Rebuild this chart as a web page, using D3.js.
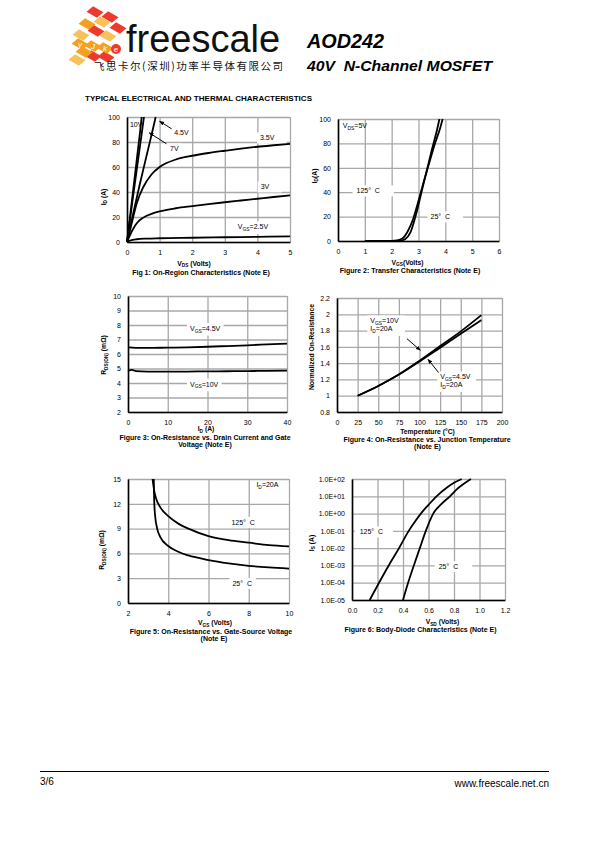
<!DOCTYPE html>
<html><head><meta charset="utf-8">
<script src="https://cdn.jsdelivr.net/npm/d3@7/dist/d3.min.js"></script>
<style>
html,body{margin:0;padding:0;background:#fff;}
svg{display:block;font-family:"Liberation Sans",Arial,Helvetica,sans-serif;}
</style></head><body>
<svg id="page" width="595" height="842"></svg>
<script>
// ---------------- DATA ----------------
// Fig 1: On-region characteristics  (VDS [V], ID [A])
const fig1XTicks = [0,1,2,3,4,5];
const fig1YTicks = [0,20,40,60,80,100];
const fig1Vgs10  = [[0,0],[0.1,22],[0.2,44],[0.3,66],[0.4,88],[0.45,100]];
const fig1Vgs7   = [[0,0],[0.1,19.5],[0.2,39],[0.3,58],[0.4,77],[0.5,96],[0.52,100]];
const fig1Vgs45  = [[0,0],[0.1,12],[0.2,24],[0.4,47],[0.6,69],[0.8,91],[0.88,100]];
const fig1Vgs35  = [[0,0],[0.1,10],[0.2,21],[0.3,31],[0.5,44],[0.75,54],[1,60],[1.5,66],[2,69],[2.5,71.2],[3,73],[3.5,74.7],[4,76.2],[4.5,77.4],[5,78.5]];
const fig1Vgs3   = [[0,0],[0.1,6],[0.2,11],[0.3,15],[0.5,19.5],[0.75,22.5],[1,24.5],[1.5,27],[2,28.7],[2.5,30.3],[3,31.8],[3.5,33.2],[4,34.6],[4.5,36],[5,37.3]];
const fig1Vgs25  = [[0,0],[0.1,1.2],[0.3,2.2],[0.6,2.7],[1,3],[2,3.4],[3,3.8],[4,4.1],[5,4.5]];

// Fig 2: Transfer characteristics (VGS [V], ID [A])
const fig2XTicks = [0,1,2,3,4,5,6];
const fig2YTicks = [0,20,40,60,80,100];
const fig2T125 = [[1,0],[1.5,0],[2,0.1],[2.2,0.5],[2.4,2],[2.6,8],[2.8,18],[3,33],[3.2,49],[3.4,64],[3.6,79],[3.8,92],[3.9,100]];
const fig2T25  = [[2,0],[2.3,0.2],[2.5,1.5],[2.7,7],[2.9,21],[3.1,39],[3.3,57],[3.5,75],[3.7,92],[3.78,100]];

// Fig 3: On-resistance vs drain current (ID [A], RDS(ON) [mOhm])
const fig3XTicks = [0,10,20,30,40];
const fig3YTicks = [2,3,4,5,6,7,8,9,10];
const fig3Vgs45 = [[0,6.45],[2,6.42],[5,6.42],[10,6.44],[15,6.46],[20,6.5],[25,6.55],[30,6.6],[35,6.66],[40,6.72]];
const fig3Vgs10 = [[0,4.84],[1,4.9],[2,4.82],[5,4.79],[10,4.78],[15,4.79],[20,4.8],[25,4.81],[30,4.82],[35,4.84],[40,4.85]];

// Fig 4: Normalized on-resistance vs temperature
const fig4XTicks = [0,25,50,75,100,125,150,175,200];
const fig4YTicks = [0.8,1,1.2,1.4,1.6,1.8,2,2.2];
const fig4Vgs10 = [[25,1.0],[50,1.12],[75,1.26],[100,1.43],[125,1.61],[150,1.79],[175,1.99]];
const fig4Vgs45 = [[25,1.0],[50,1.12],[75,1.26],[100,1.42],[125,1.59],[150,1.76],[175,1.93]];

// Fig 5: On-resistance vs gate-source voltage (VGS [V], RDS(ON) [mOhm])
const fig5XTicks = [2,4,6,8,10];
const fig5YTicks = [0,3,6,9,12,15];
const fig5T125 = [[3.22,15],[3.3,13.6],[3.4,12.6],[3.6,11.6],[4,10.5],[4.5,9.6],[5,9.0],[6,8.1],[7,7.6],[8,7.3],[9,7.0],[10,6.85]];
const fig5T25  = [[3.28,15],[3.3,12.5],[3.35,10.5],[3.45,9],[3.6,8],[4,6.9],[4.5,6.2],[5,5.75],[6,5.2],[7,4.8],[8,4.5],[9,4.3],[10,4.15]];

// Fig 6: Body diode characteristics (VSD [V], IS [A], log)
const fig6XTicks = [0,0.2,0.4,0.6,0.8,1.0,1.2];
const fig6YTicks = [1e-5,1e-4,1e-3,1e-2,1e-1,1e0,1e1,1e2];
const fig6T125 = [[0.139,1e-5],[0.212,1e-4],[0.288,1e-3],[0.369,1e-2],[0.445,1e-1],[0.5,0.4],[0.54,1],[0.6,3.2],[0.663,10],[0.74,30],[0.8,60],[0.86,100]];
const fig6T25  = [[0.4,1e-5],[0.44,1e-4],[0.485,1e-3],[0.532,1e-2],[0.579,1e-1],[0.637,1],[0.7,3.5],[0.768,10],[0.833,30],[0.88,55],[0.933,100]];

// ---------------- DRAWING ----------------
const svg = d3.select('#page');
const GRID = '#a8a8a8';
const defs = svg.append('defs');
defs.append('marker').attr('id','arr').attr('viewBox','0 0 10 10').attr('refX',9).attr('refY',5)
  .attr('markerWidth',5).attr('markerHeight',5).attr('orient','auto')
  .append('path').attr('d','M0,1 L10,5 L0,9 z').attr('fill','#000');

// text with subscripts: parts = ["V", ["GS"], "=4.5V"]
function rich(parent, x, y, parts, o = {}) {
  const size = o.size || 7;
  const t = parent.append('text')
    .attr('font-size', size)
    .attr('font-weight', o.weight || 'normal')
    .attr('font-style', o.style || 'normal')
    .attr('text-anchor', o.anchor || 'start')
    .attr('fill', '#000')
    .style('white-space', 'pre');
  if (o.rotate) t.attr('transform', `translate(${x},${y}) rotate(-90)`);
  else t.attr('x', x).attr('y', y);
  if (o.center) t.attr('dy', '0.35em');
  let sub = false;
  const sh = size * 0.22;
  parts.forEach(p => {
    if (Array.isArray(p)) {
      t.append('tspan').attr('font-size', size * 0.7).attr('dy', sh).text(p[0]);
      sub = true;
    } else {
      const ts = t.append('tspan').text(p);
      if (sub) { ts.attr('dy', -sh); sub = false; }
    }
  });
  return t;
}

function drawChart(c) {
  const g = svg.append('g');
  const x = d3.scaleLinear().domain(c.xDomain).range([c.l, c.r]);
  const y = (c.yLog ? d3.scaleLog() : d3.scaleLinear()).domain(c.yDomain).range([c.b, c.t]);
  const gGrid = g.append('g'), gBox = g.append('g'), gCurve = g.append('g'), gText = g.append('g'), gAxis = g.append('g');

  // grid via axes
  gGrid.append('g').attr('transform', `translate(0,${c.b})`)
    .call(d3.axisBottom(x).tickValues(c.xTicks).tickSize(-(c.b - c.t)).tickFormat(''))
    .call(a => { a.select('.domain').remove(); a.selectAll('line').attr('stroke', GRID).attr('stroke-width', 1.3); });
  gGrid.append('g').attr('transform', `translate(${c.l},0)`)
    .call(d3.axisLeft(y).tickValues(c.yTicks).tickSize(-(c.r - c.l)).tickFormat(''))
    .call(a => { a.select('.domain').remove(); a.selectAll('line').attr('stroke', GRID).attr('stroke-width', 1.3); });

  // curves
  const line = d3.line().x(d => x(d[0])).y(d => y(d[1])).curve(d3.curveMonotoneX);
  c.series.forEach(s => gCurve.append('path').datum(s)
    .attr('fill', 'none').attr('stroke', '#000').attr('stroke-width', 1.8)
    .attr('stroke-linejoin', 'round').attr('d', line));

  // in-plot labels with white boxes
  (c.labels || []).forEach(L => {
    const texts = L.lines.map((parts, i) => rich(gText, x(L.x), y(L.y) + i * 8, parts, { size: 7, center: true }));
    let bb = null;
    texts.forEach(t => {
      const b = t.node().getBBox();
      if (!bb) bb = { x0: b.x, y0: b.y, x1: b.x + b.width, y1: b.y + b.height };
      else { bb.x0 = Math.min(bb.x0, b.x); bb.y0 = Math.min(bb.y0, b.y); bb.x1 = Math.max(bb.x1, b.x + b.width); bb.y1 = Math.max(bb.y1, b.y + b.height); }
    });
    if (L.box !== false) {
      const pl = L.padL ?? 3, pr = L.padR ?? 3;
      gBox.append('rect').attr('x', bb.x0 - pl).attr('y', bb.y0 - 2)
        .attr('width', bb.x1 - bb.x0 + pl + pr).attr('height', bb.y1 - bb.y0 + 4).attr('fill', '#fff');
    }
  });
  (c.arrows || []).forEach(A => {
    gText.append('line').attr('x1', x(A.from[0])).attr('y1', y(A.from[1]))
      .attr('x2', x(A.to[0])).attr('y2', y(A.to[1]))
      .attr('stroke', '#000').attr('stroke-width', 1).attr('marker-end', 'url(#arr)');
  });

  // axes with labels (black left/bottom)
  const ax = gAxis.append('g').attr('transform', `translate(0,${c.b})`)
    .call(d3.axisBottom(x).tickValues(c.xTicks).tickSize(0).tickSizeOuter(0).tickPadding(8.5).tickFormat(c.xFormat || (d => d)));
  const ay = gAxis.append('g').attr('transform', `translate(${c.l},0)`)
    .call(d3.axisLeft(y).tickValues(c.yTicks).tickSize(0).tickSizeOuter(0).tickPadding(7).tickFormat(c.yFormat || (d => d)));
  [ax, ay].forEach(a => {
    a.select('.domain').attr('stroke', '#000').attr('stroke-width', 1.6);
    a.selectAll('text').attr('font-size', 7).attr('fill', '#000').attr('font-family', '"Liberation Sans",Arial,sans-serif');
  });

  // titles & captions
  rich(g, c.xTitle.x, c.xTitle.y, c.xTitle.parts, { size: 6.8, weight: 'bold', anchor: 'middle' });
  rich(g, c.yTitle.x, c.yTitle.y, c.yTitle.parts, { size: 6.8, weight: 'bold', anchor: 'middle', rotate: true });
  c.caption.lines.forEach((ln, i) =>
    rich(g, c.caption.x[i], c.caption.y + i * 7.4, [ln], { size: 7, weight: 'bold', anchor: 'middle' }));
}

// ---------- header ----------
(function header() {
  const red = '#ec3b2c', orange = '#f6a01f', yellow = '#f9c15a';
  const tiles = [
    [95,12,red],[110,17,red],[102,22,yellow],[87,24,orange],[118,28,red],[96,31,red],
    [108,36,yellow],[81,35,yellow],[106,57,red],[93,56,red],[84,52,orange],[77,60,yellow]
  ];
  const lg = svg.append('g');
  tiles.forEach(([cx, cy, col]) => {
    lg.append('rect').attr('x', -6).attr('y', -4).attr('width', 12).attr('height', 8)
      .attr('fill', col).attr('transform', `translate(${cx},${cy}) rotate(30) skewX(-20)`);
  });
  [[80,44,'y'],[93,46,'J'],[105,48,'k']].forEach(([cx, cy, ch]) => {
    lg.append('rect').attr('x', -6).attr('y', -4).attr('width', 12).attr('height', 8)
      .attr('fill', orange).attr('transform', `translate(${cx},${cy}) rotate(30) skewX(-20)`);
    lg.append('text').attr('x', cx).attr('y', cy + 3).attr('text-anchor', 'middle')
      .attr('font-size', 8).attr('fill', '#fff').attr('font-style', 'italic').text(ch);
  });
  lg.append('circle').attr('cx', 116).attr('cy', 49).attr('r', 5).attr('fill', red);
  lg.append('text').attr('x', 116).attr('y', 52).attr('text-anchor', 'middle').attr('font-size', 8).attr('fill', '#fff').text('e');

  svg.append('text').attr('x', 126).attr('y', 52).attr('font-size', 38).attr('fill', '#111').text('freescale');
  svg.append('text').attr('x', 94).attr('y', 69.5).attr('font-size', 10.5)
    .attr('font-family', '"Noto Sans CJK SC",sans-serif').attr('textLength', 189).attr('lengthAdjust', 'spacing')
    .attr('fill', '#111').text('飞思卡尔(深圳)功率半导体有限公司');
  svg.append('text').attr('x', 307).attr('y', 48).attr('font-size', 20).attr('font-weight', 'bold')
    .attr('font-style', 'italic').attr('textLength', 77).attr('lengthAdjust', 'spacingAndGlyphs').text('AOD242');
  svg.append('text').attr('x', 307).attr('y', 70.5).attr('font-size', 15).attr('font-weight', 'bold')
    .attr('font-style', 'italic').attr('textLength', 185).attr('lengthAdjust', 'spacingAndGlyphs')
    .style('white-space', 'pre').text('40V  N-Channel MOSFET');
  svg.append('text').attr('x', 85).attr('y', 101).attr('font-size', 7.5).attr('font-weight', 'bold')
    .attr('textLength', 227).attr('lengthAdjust', 'spacingAndGlyphs')
    .text('TYPICAL ELECTRICAL AND THERMAL CHARACTERISTICS');
})();

// ---------- charts ----------
drawChart({
  l: 127, r: 290, t: 117, b: 242, xDomain: [0, 5], yDomain: [0, 100],
  xTicks: fig1XTicks, yTicks: fig1YTicks,
  series: [fig1Vgs10, fig1Vgs7, fig1Vgs45, fig1Vgs35, fig1Vgs3, fig1Vgs25],
  labels: [
    { x: 0.09, y: 93.6, lines: [['10V']], box: false },
    { x: 1.45, y: 87.5, lines: [['4.5V']] },
    { x: 1.32, y: 74.4, lines: [['7V']] },
    { x: 4.08, y: 83.2, lines: [['3.5V']], padR: 12 },
    { x: 4.1, y: 44, lines: [['3V']], padR: 12 },
    { x: 3.4, y: 12, lines: [['V', ['GS'], '=2.5V']] }
  ],
  arrows: [
    { from: [1.37, 90.5], to: [1.0, 96.6] },
    { from: [1.21, 78.6], to: [0.68, 87.4] }
  ],
  xTitle: { x: 194, y: 265.5, parts: ['V', ['DS'], ' (Volts)'] },
  yTitle: { x: 105.5, y: 197, parts: ['I', ['D'], ' (A)'] },
  caption: { x: [201], y: 275, lines: ['Fig 1: On-Region Characteristics (Note E)'] }
});

drawChart({
  l: 338, r: 499, t: 119, b: 241, xDomain: [0, 6], yDomain: [0, 100],
  xTicks: fig2XTicks, yTicks: fig2YTicks,
  series: [fig2T125, fig2T25],
  labels: [
    { x: 0.18, y: 94.5, lines: [['V', ['DS'], '=5V']], box: false },
    { x: 0.69, y: 41, lines: [['125°  C']], padL: 4, padR: 14 },
    { x: 3.45, y: 19.7, lines: [['25°  C']], padL: 3, padR: 13 }
  ],
  xTitle: { x: 407.5, y: 264.5, parts: ['V', ['GS'], '(Volts)'] },
  yTitle: { x: 316.5, y: 176, parts: ['I', ['D'], '(A)'] },
  caption: { x: [410], y: 272.5, lines: ['Figure 2: Transfer Characteristics (Note E)'] }
});

drawChart({
  l: 128, r: 287, t: 296, b: 412, xDomain: [0, 40], yDomain: [2, 10],
  xTicks: fig3XTicks, yTicks: fig3YTicks,
  series: [fig3Vgs45, fig3Vgs10],
  labels: [
    { x: 15.6, y: 7.75, lines: [['V', ['GS'], '=4.5V']] },
    { x: 15.6, y: 3.91, lines: [['V', ['GS'], '=10V']] }
  ],
  xTitle: { x: 206, y: 431.3, parts: ['I', ['D'], ' (A)'] },
  yTitle: { x: 106, y: 355, parts: ['R', ['DS(ON)'], ' (mΩ)'] },
  caption: { x: [205, 205], y: 439.5, lines: ['Figure 3: On-Resistance vs. Drain Current and Gate', 'Voltage (Note E)'] }
});

drawChart({
  l: 337, r: 502, t: 298, b: 412, xDomain: [0, 200], yDomain: [0.8, 2.2],
  xTicks: fig4XTicks, yTicks: fig4YTicks,
  yFormat: d => String(+d.toFixed(1)),
  series: [fig4Vgs10, fig4Vgs45],
  labels: [
    { x: 40.4, y: 1.918, lines: [['V', ['GS'], '=10V'], ['I', ['D'], '=20A']], padR: 6 },
    { x: 125.2, y: 1.23, lines: [['V', ['GS'], '=4.5V'], ['I', ['D'], '=20A']], padR: 5 }
  ],
  arrows: [
    { from: [84.8, 1.70], to: [101, 1.558] },
    { from: [123.2, 1.284], to: [110.3, 1.447] }
  ],
  xTitle: { x: 427.5, y: 433.5, parts: ['Temperature (°C)'] },
  yTitle: { x: 313.5, y: 347, parts: ['Normalized On-Resistance'] },
  caption: { x: [427, 427.5], y: 441.5, lines: ['Figure 4: On-Resistance vs. Junction Temperature', '(Note E)'] }
});

drawChart({
  l: 128, r: 289, t: 479, b: 603, xDomain: [2, 10], yDomain: [0, 15],
  xTicks: fig5XTicks, yTicks: fig5YTicks,
  series: [fig5T125, fig5T25],
  labels: [
    { x: 8.38, y: 14.28, lines: [['I', ['D'], '=20A']], box: false },
    { x: 7.14, y: 9.75, lines: [['125°  C']], padR: 4 },
    { x: 7.19, y: 2.35, lines: [['25°  C']], padR: 4 }
  ],
  xTitle: { x: 215, y: 625.3, parts: ['V', ['GS'], ' (Volts)'] },
  yTitle: { x: 104, y: 550, parts: ['R', ['DS(ON)'], ' (mΩ)'] },
  caption: { x: [211, 214], y: 633.5, lines: ['Figure 5: On-Resistance vs. Gate-Source Voltage', '(Note E)'] }
});

drawChart({
  l: 352, r: 505, t: 479, b: 600, xDomain: [0, 1.2], yDomain: [1e-5, 1e2], yLog: true,
  xTicks: fig6XTicks, yTicks: fig6YTicks,
  xFormat: d3.format('.1f'),
  yFormat: d => { const e = Math.round(Math.log10(d)); return '1.0E' + (e < 0 ? '-' : '+') + String(Math.abs(e)).padStart(2, '0'); },
  series: [fig6T125, fig6T25],
  labels: [
    { x: 0.06, y: 0.086, lines: [['125°  C']], padL: 5, padR: 10 },
    { x: 0.68, y: 8.5e-4, lines: [['25°  C']], padL: 4, padR: 14 }
  ],
  xTitle: { x: 442.5, y: 624.3, parts: ['V', ['SD'], ' (Volts)'] },
  yTitle: { x: 313.5, y: 543, parts: ['I', ['S'], ' (A)'] },
  caption: { x: [420.5], y: 632.3, lines: ['Figure 6: Body-Diode Characteristics (Note E)'] }
});

// ---------- footer ----------
svg.append('line').attr('x1', 40).attr('x2', 549).attr('y1', 771.5).attr('y2', 771.5).attr('stroke', '#000').attr('stroke-width', 1);
svg.append('text').attr('x', 40).attr('y', 784.5).attr('font-size', 10).text('3/6');
svg.append('text').attr('x', 549).attr('y', 787).attr('font-size', 10).attr('text-anchor', 'end').text('www.freescale.net.cn');
</script>
</body></html>
